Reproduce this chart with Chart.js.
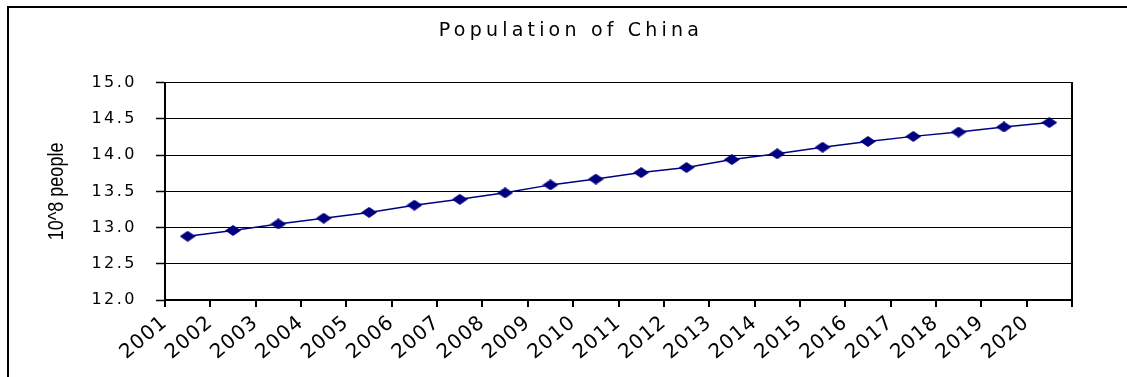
<!DOCTYPE html>
<html>
<head>
<meta charset="utf-8">
<script src="https://cdn.jsdelivr.net/npm/chart.js@4.4.1/dist/chart.umd.min.js"></script>
<style>
  html, body { margin: 0; padding: 0; background: #fff; width: 1127px; height: 377px; overflow: hidden; }
  #frame { position: absolute; left: 7px; top: 6px; width: 1200px; height: 500px; border: 2px solid #000; box-sizing: border-box; }
  #c { position: absolute; left: 0; top: 0; }
</style>
</head>
<body>
<div id="frame"></div>
<canvas id="c" width="1127" height="377"></canvas>
<script>
// ---- data ----
const years = ['2001','2002','2003','2004','2005','2006','2007','2008','2009','2010',
               '2011','2012','2013','2014','2015','2016','2017','2018','2019','2020'];
const population = [12.88, 12.96, 13.05, 13.13, 13.21, 13.31, 13.39, 13.48, 13.59, 13.67,
                    13.76, 13.83, 13.94, 14.02, 14.11, 14.19, 14.26, 14.32, 14.39, 14.45];
const yTickLabels = ['12.0','12.5','13.0','13.5','14.0','14.5','15.0'];
const chartTitle = 'Population of China';
const yAxisTitle = '10^8 people';

// ---- styles ----
const NAVY = '#000080';
const YTICK_SPACING = '2.5px';
const XTICK_SPACING = '1px';
const TITLE_SPACING = '4.2px';
const YTITLE_SQUEEZE = 0.82;

// diamond marker (wider than tall)
const diamond = document.createElement('canvas');
diamond.width = 16; diamond.height = 11;
(function () {
  const g = diamond.getContext('2d');
  g.fillStyle = NAVY;
  g.beginPath();
  g.moveTo(8, 0); g.lineTo(16, 5.5); g.lineTo(8, 11); g.lineTo(0, 5.5); g.closePath();
  g.fill();
})();

function wrap(obj, method, key, fn) {
  if (!obj || obj['_w_' + key]) return;
  const orig = obj[method];
  obj[method] = function (...args) { return fn.call(this, orig, args); };
  obj['_w_' + key] = true;
}
function withSpacing(spacing) {
  return function (orig, args) {
    const c = this.ctx;
    const prev = c.letterSpacing;
    c.letterSpacing = spacing;
    try { return orig.apply(this, args); } finally { c.letterSpacing = prev; }
  };
}

const spacingPlugin = {
  id: 'spacing',
  beforeLayout(chart) {
    const s = chart.scales || {};
    wrap(s.x, 'fit', 'xfit', withSpacing(XTICK_SPACING));
    wrap(s.y, 'fit', 'yfit', withSpacing(YTICK_SPACING));
  },
  beforeDraw(chart) {
    const s = chart.scales;
    wrap(chart.titleBlock, 'draw', 'tdraw', withSpacing(TITLE_SPACING));
    wrap(s.x, 'drawLabels', 'xlab', withSpacing(XTICK_SPACING));
    wrap(s.y, 'drawLabels', 'ylab', withSpacing(YTICK_SPACING));
    wrap(s.y, 'drawTitle', 'ytitle', function (orig, args) {
      const c = this.ctx;
      const cy = (this.top + this.bottom) / 2;
      c.save();
      c.letterSpacing = '0px';
      c.translate(0, cy);
      c.scale(1, YTITLE_SQUEEZE);
      c.translate(0, -cy);
      try { return orig.apply(this, args); } finally { c.restore(); }
    });
  }
};

const dataPoints = population.map((v, i) => ({ x: i + 0.5, y: v }));

new Chart(document.getElementById('c'), {
  type: 'line',
  data: {
    datasets: [{
      data: dataPoints,
      borderColor: NAVY,
      borderWidth: 1.5,
      pointStyle: diamond,
      pointRadius: 6,
      pointBackgroundColor: NAVY,
      pointBorderColor: NAVY,
      tension: 0,
      fill: false
    }]
  },
  options: {
    responsive: false,
    animation: false,
    events: [],
    layout: { padding: { left: 15, right: 0, top: 0, bottom: 0 } },
    plugins: {
      legend: { display: false },
      tooltip: { enabled: false },
      title: {
        display: true,
        text: chartTitle,
        color: '#000',
        font: { family: "'DejaVu Sans', sans-serif", size: 19, weight: 'normal' },
        padding: { top: 20, bottom: 40 }
      }
    },
    scales: {
      x: {
        type: 'linear',
        min: 0,
        max: years.length,
        grid: {
          drawOnChartArea: false,
          drawTicks: true,
          tickLength: 7,
          tickColor: '#000',
          tickWidth: 2,
          color: '#000',
          lineWidth: 2
        },
        border: { display: true, color: '#000', width: 2 },
        ticks: {
          stepSize: 1,
          autoSkip: false,
          minRotation: 40,
          maxRotation: 40,
          padding: 4,
          color: '#000',
          font: { family: "'DejaVu Sans', sans-serif", size: 20 },
          callback: (v) => (years[v] !== undefined ? years[v] : '')
        },
        afterFit(s) { s.height = 77; }
      },
      y: {
        min: 12,
        max: 15,
        grid: { color: '#000', lineWidth: 1, tickLength: 9, tickColor: '#000', tickWidth: 1.5 },
        border: { display: true, color: '#000', width: 2 },
        ticks: {
          stepSize: 0.5,
          padding: 19,
          color: '#000',
          font: { family: "'DejaVu Sans', sans-serif", size: 16 },
          callback: (v, i) => yTickLabels[i]
        },
        title: {
          display: true,
          text: yAxisTitle,
          color: '#000',
          font: { family: "'Liberation Sans', 'Arial', sans-serif", size: 22 },
          padding: { top: 29, bottom: 0 }
        },
        afterFit(s) { s.width = 150; }
      },
      y2: {
        position: 'right',
        min: 12,
        max: 15,
        grid: { display: true, drawOnChartArea: false, drawTicks: false },
        border: { display: true, color: '#000', width: 2 },
        ticks: { display: false },
        afterFit(s) { s.width = 55; }
      }
    }
  },
  plugins: [spacingPlugin]
});
</script>
</body>
</html>
